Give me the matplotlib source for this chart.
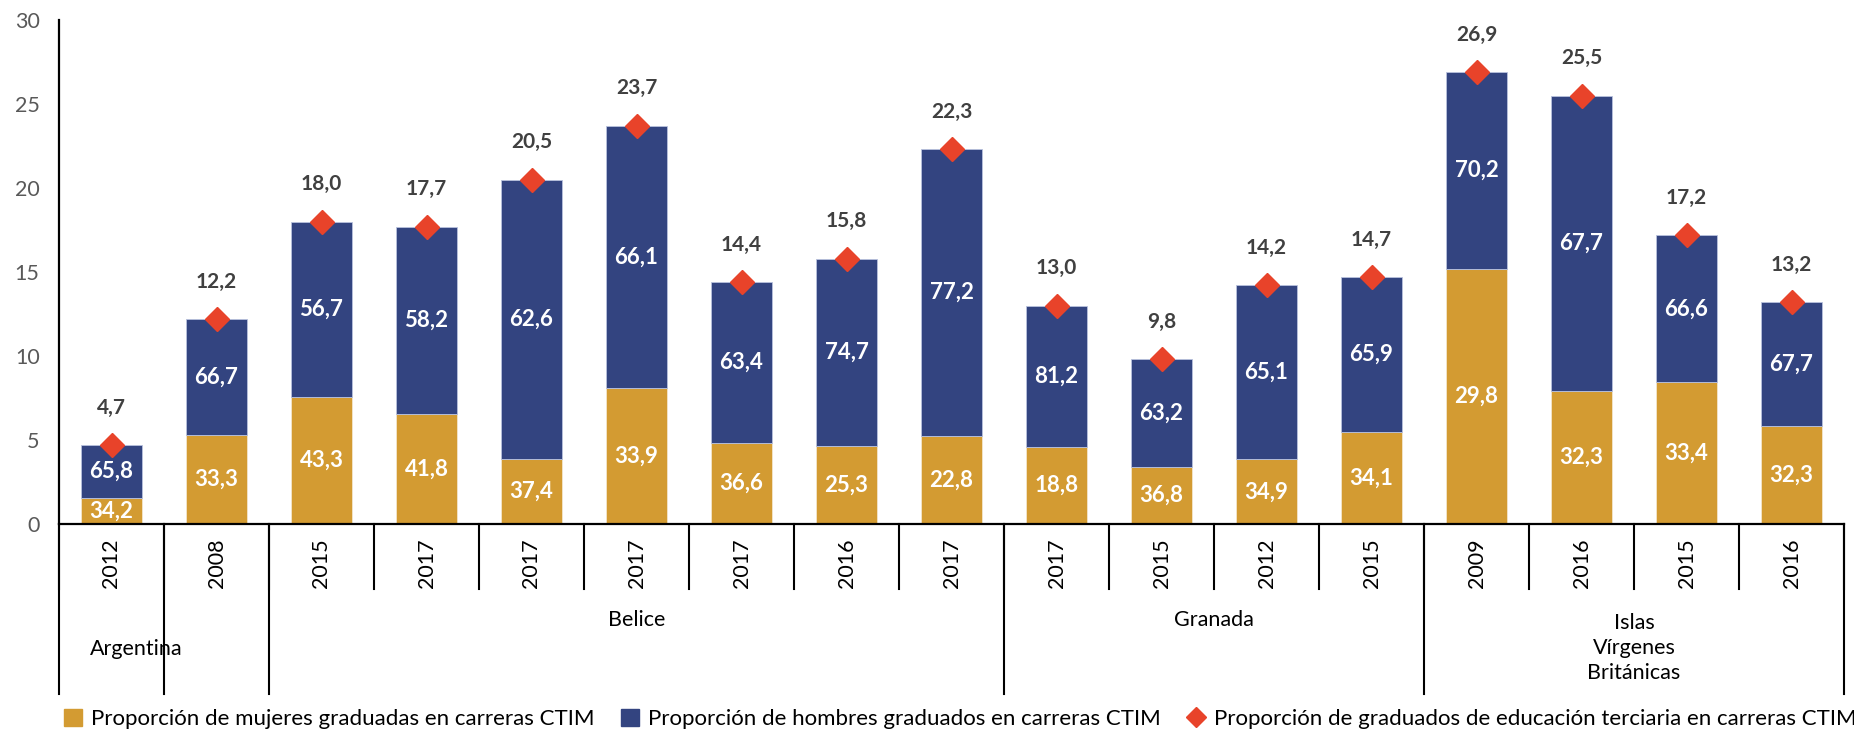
import matplotlib
matplotlib.use('Agg')
import matplotlib.pyplot as plt
from matplotlib.lines import Line2D
from matplotlib.patches import Patch
import numpy as np

plt.rcParams['font.family'] = ['Lato', 'DejaVu Sans']

# Data
years = ['2012', '2008', '2015', '2017', '2017', '2017', '2017', '2016', '2017',
         '2017', '2015', '2012', '2015', '2009', '2016', '2015', '2016']
total = [4.7, 12.2, 18.0, 17.7, 20.5, 23.7, 14.4, 15.8, 22.3,
         13.0, 9.8, 14.2, 14.7, 26.9, 25.5, 17.2, 13.2]
# height of the orange segment as drawn in the chart
mujeres_altura = [1.56, 5.3, 7.56, 6.52, 3.86, 8.1, 4.82, 4.64, 5.26,
                  4.6, 3.38, 3.84, 5.49, 15.17, 7.91, 8.43, 5.86]
mujeres_pct = [34.2, 33.3, 43.3, 41.8, 37.4, 33.9, 36.6, 25.3, 22.8,
               18.8, 36.8, 34.9, 34.1, 29.8, 32.3, 33.4, 32.3]
hombres_pct = [65.8, 66.7, 56.7, 58.2, 62.6, 66.1, 63.4, 74.7, 77.2,
               81.2, 63.2, 65.1, 65.9, 70.2, 67.7, 66.6, 67.7]

paises = ['Argentina', '', 'Belice', 'Granada', 'Islas\nVírgenes\nBritánicas']
pais_inicio = [0, 1, 2, 9, 13]
pais_fin = [0, 1, 8, 12, 16]

c_muj = '#D39B32'
c_hom = '#334480'
c_tot = '#E8432A'

x = np.arange(len(years))
hombres_altura = np.array(total) - np.array(mujeres_altura)

fig = plt.figure(figsize=(18.54, 7.31), dpi=100)
ax = fig.add_axes([59/1854, 1 - 524/731, 1785/1854, 504/731])

ax.bar(x, mujeres_altura, width=0.59, color=c_muj, edgecolor='#F3E6CC', linewidth=0.6, zorder=2)
ax.bar(x, hombres_altura, width=0.59, bottom=mujeres_altura, color=c_hom,
       edgecolor='#B9C2DE', linewidth=0.6, zorder=2)
ax.plot(x, total, linestyle='none', marker='D', markersize=12.5, color=c_tot, zorder=4)

# labels
for i in range(len(x)):
    ax.text(x[i], mujeres_altura[i] / 2, f'{mujeres_pct[i]:.1f}'.replace('.', ','),
            ha='center', va='center', color='white', fontsize=16, fontweight='bold', zorder=5)
    ax.text(x[i], mujeres_altura[i] + hombres_altura[i] / 2, f'{hombres_pct[i]:.1f}'.replace('.', ','),
            ha='center', va='center', color='white', fontsize=16, fontweight='bold', zorder=5)
    ax.annotate(f'{total[i]:.1f}'.replace('.', ','), xy=(x[i], total[i]), xytext=(0, 27),
                textcoords='offset points', ha='center', va='center',
                color='#404040', fontsize=15, fontweight='bold')

ax.set_xlim(-0.5, len(x) - 0.5)
ax.set_ylim(0, 30)
ax.set_yticks(range(0, 31, 5))
ax.tick_params(axis='y', length=0, labelsize=15.5, labelcolor='#595959', pad=14)
ax.set_xticks([])
for s in ['top', 'right']:
    ax.spines[s].set_visible(False)
ax.spines['left'].set_linewidth(1.6)
ax.spines['bottom'].set_linewidth(1.6)

# multi-level category axis
trans = ax.get_xaxis_transform()
y_year = -65/504
y_group = -170/504
for b in np.arange(-0.5, len(x), 1.0):
    ax.add_line(Line2D([b, b], [0, y_year], transform=trans, color='black', lw=1.5, clip_on=False))
for i in range(len(paises)):
    b = pais_inicio[i] - 0.5
    ax.add_line(Line2D([b, b], [0, y_group], transform=trans, color='black', lw=1.5, clip_on=False))
ax.add_line(Line2D([len(x) - 0.5] * 2, [0, y_group], transform=trans, color='black', lw=1.5, clip_on=False))

for i in range(len(x)):
    ax.text(x[i], -39/504, years[i], transform=trans, rotation=90, ha='center', va='center',
            fontsize=15.5, color='black')

for i in range(len(paises)):
    if paises[i] == '':
        continue
    xc = (pais_inicio[i] + pais_fin[i]) / 2
    yc = -96/504
    if paises[i] == 'Argentina':
        xc = 0.24
        yc = -125/504
    elif '\n' in paises[i]:
        yc = -124/504
    ax.text(xc, yc, paises[i], transform=trans, ha='center', va='center',
            fontsize=15.5, color='black', linespacing=1.3)

handles = [Patch(color=c_muj), Patch(color=c_hom),
           Line2D([], [], linestyle='none', marker='D', markersize=10, color=c_tot)]
etiquetas = ['Proporción de mujeres graduadas en carreras CTIM',
             'Proporción de hombres graduados en carreras CTIM',
             'Proporción de graduados de educación terciaria en carreras CTIM']
fig.legend(handles, etiquetas, loc='center', bbox_to_anchor=(0.518, 12/731), ncol=3,
           frameon=False, fontsize=16, handlelength=0.8, handleheight=0.8,
           handletextpad=0.4, columnspacing=1.2, borderaxespad=0)

fig.savefig('out.png', dpi=100)
